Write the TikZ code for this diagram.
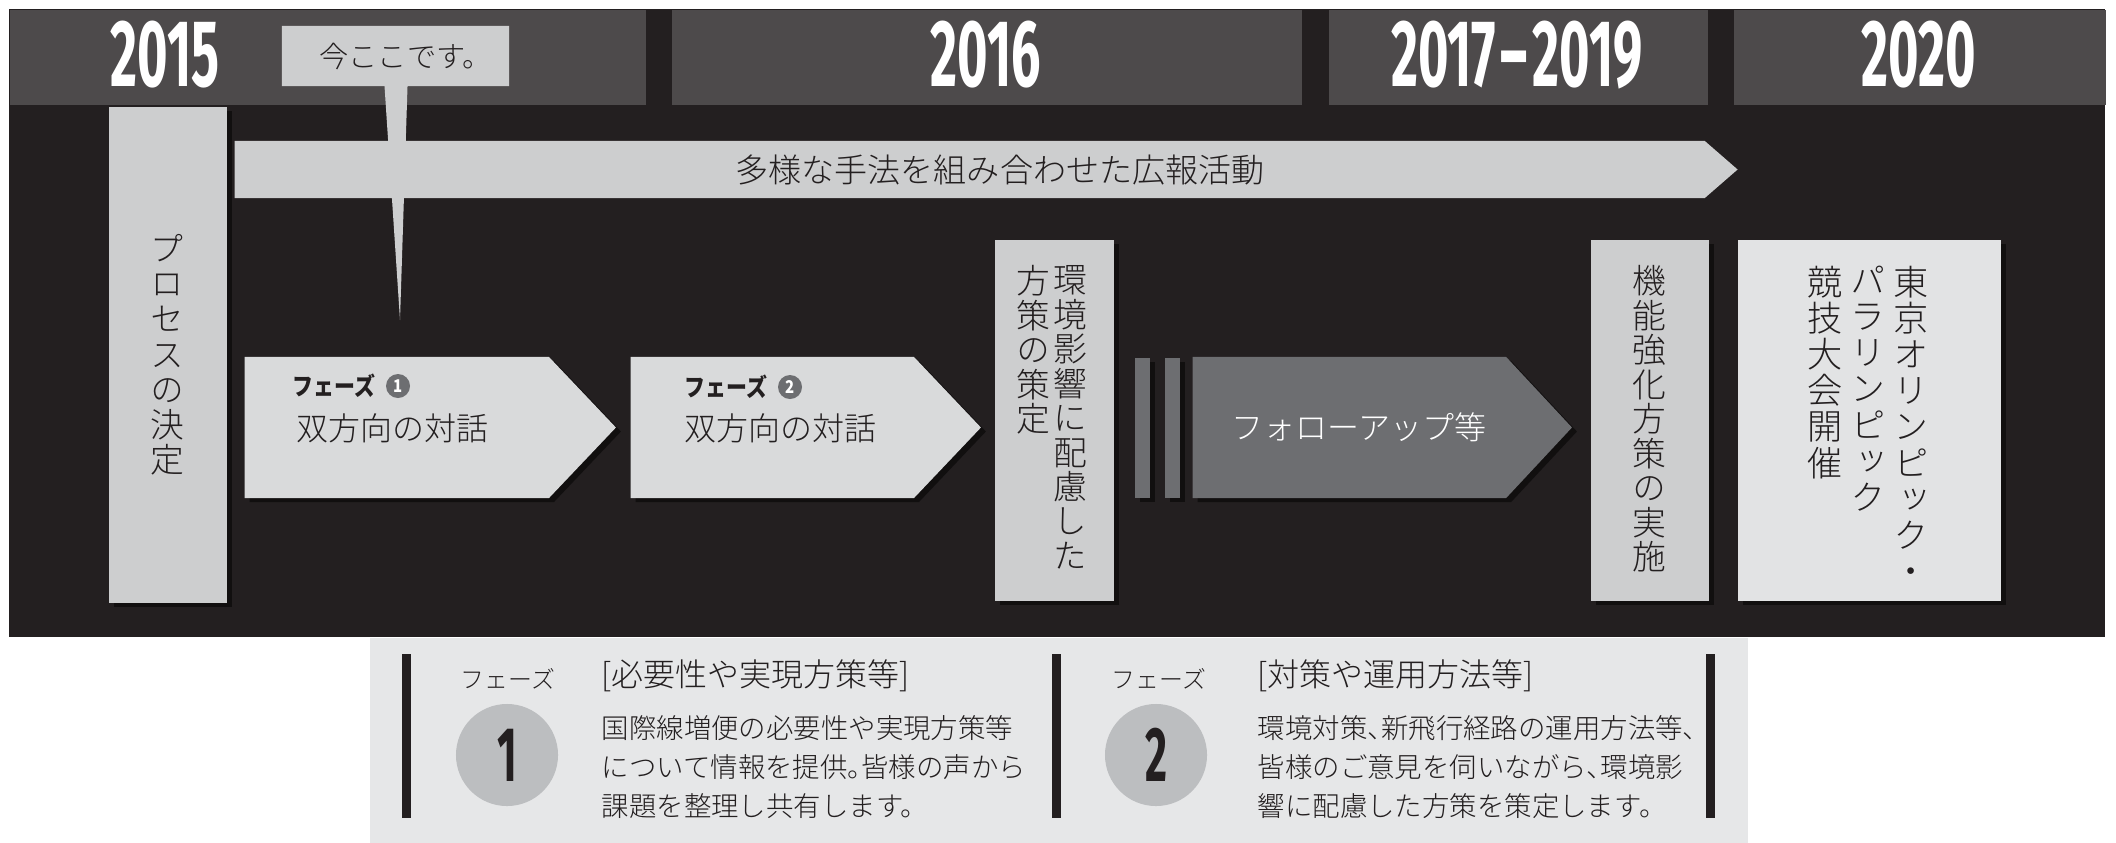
\documentclass[tikz,border=0pt]{standalone}
\usepackage{fontspec}
\IfFontExistsTF{Noto Sans CJK JP Light}{\def\jpname{Noto Sans CJK JP Light}}{\def\jpname{Noto Sans CJK JP}}
\setmainfont{\jpname}
\newfontfamily\tagfont[FakeStretch=0.85]{Noto Sans CJK JP}
\newfontfamily\yearfont[FakeStretch=0.55]{Fira Sans}
\newfontfamily\halffont[RawFeature=+halt]{\jpname}
\newfontfamily\vertfont[RawFeature=+vert]{\jpname}
\usetikzlibrary{shapes.symbols, shapes.callouts, shadows, calc}

\definecolor{bgdark}{HTML}{231F20}
\definecolor{headgray}{HTML}{4D4A4B}
\definecolor{boxgray}{HTML}{CDCECF}
\definecolor{phasegray}{HTML}{D9DADB}
\definecolor{olygray}{HTML}{E2E3E4}
\definecolor{midgray}{HTML}{6D6E71}
\definecolor{panelgray}{HTML}{E6E7E8}
\definecolor{circgray}{HTML}{BCBEC0}

\newcommand{\hw}[1]{{\halffont #1}}

\begin{document}
\begin{tikzpicture}[x=0.01cm, y=-0.01cm,
    every node/.style={inner sep=0pt, text=bgdark},
    hd/.style={fill=headgray, anchor=north west, minimum height=0.95cm},
    yr/.style={font=\yearfont\bfseries\fontsize{27}{27}\selectfont, text=white},
    shd/.style={drop shadow={shadow xshift=0.05cm, shadow yshift=-0.04cm, fill=black, opacity=0.5}},
    vbox/.style={shd, fill=boxgray, anchor=north west, minimum height=3.61cm},
    vcol/.style={anchor=north, align=center, font=\vertfont\fontsize{9.6}{9.8}\selectfont},
    ocol/.style={vcol, font=\vertfont\fontsize{10}{10.3}\selectfont},
    arr/.style={signal, signal to=east, anchor=west, minimum height=1.41cm, shd},
    lbl/.style={anchor=west, font=\fontsize{9.1}{10}\selectfont},
    tag/.style={anchor=west, font=\tagfont\bfseries\fontsize{7}{7}\selectfont},
    badge/.style={circle, fill=midgray, minimum size=0.24cm, text=white,
      font=\tagfont\bfseries\fontsize{5}{5}\selectfont},
    num/.style={circle, fill=circgray, minimum size=1.02cm, font=\yearfont\bfseries\fontsize{22}{22}\selectfont},
    bar/.style={fill=bgdark, anchor=north west, minimum width=0.095cm, minimum height=1.64cm},
    desc/.style={anchor=north west, align=left, font=\fontsize{7.8}{11.1}\selectfont}
]
\useasboundingbox (0,0) rectangle (2116,842);
\fill[white] (0,0) rectangle (2116,842);
\fill[bgdark] (9,9) rectangle (2105,637);

% year headers
\node[hd, minimum width=6.36cm] (hd15) at (9,9) {};
\node[hd, minimum width=6.30cm] (hd16) at (671,9) {};
\node[hd, minimum width=3.79cm] (hd17) at (1328,9) {};
\node[hd, minimum width=3.72cm] (hd20) at (1733,9) {};
\node[yr] (y15) at (165,55) {2015};
\node[yr] (y16) at (986,55) {2016};
\node[yr] (y17) at (1517,55) {2017\kern0.05em–\kern0.05em2019};
\node[yr] (y20) at (1919,55) {2020};

% publicity band
\node[signal, signal to=east, anchor=west, fill=boxgray, minimum width=15.02cm,
  minimum height=0.57cm, signal pointer angle=82] (pr) at (234,169.5) {};
\node[font=\fontsize{9.4}{10}\selectfont] (prt) at (1000,170) {多様な手法を組み合わせた広報活動};

% vertical boxes
\node[vbox, minimum width=1.18cm, minimum height=4.96cm, font=\vertfont\fontsize{9.6}{10}\selectfont,
  align=center] (proc) at (108,106) {プ\\ロ\\セ\\ス\\の\\決\\定};
\node[vbox, minimum width=1.19cm] (env) at (994,239) {};
\node[vcol] (envA) at (1070,265) {環\\境\\影\\響\\に\\配\\慮\\し\\た};
\node[vcol] (envB) at (1033,265) {方\\策\\の\\策\\定};
\node[vbox, minimum width=1.18cm] (func) at (1590,239) {};
\node[vcol] (funcA) at (1649,265) {機\\能\\強\\化\\方\\策\\の\\実\\施};
\node[vbox, fill=olygray, minimum width=2.63cm] (oly) at (1737,239) {};
\node[ocol] (olyA) at (1911,265) {東\\京\\オ\\リ\\ン\\ピ\\ッ\\ク\\・};
\node[ocol] (olyB) at (1868,265) {パ\\ラ\\リ\\ン\\ピ\\ッ\\ク};
\node[ocol] (olyC) at (1825,265) {競\\技\\大\\会\\開\\催};

% phases
\node[arr, fill=phasegray, minimum width=3.71cm, signal pointer angle=93] (ph1) at (244,427.5) {};
\node[tag] (ph1a) at (292,386) {フェーズ};
\node[badge] (ph1n) at (398,386) {1};
\node[lbl] (ph1b) at (296,428) {双方向の対話};
\node[arr, fill=phasegray, minimum width=3.50cm, signal pointer angle=93] (ph2) at (630,427.5) {};
\node[tag] (ph2a) at (684,387) {フェーズ};
\node[badge] (ph2n) at (790,387) {2};
\node[lbl] (ph2b) at (684,428) {双方向の対話};

% follow-up
\node[shd, fill=midgray, anchor=north west, minimum width=0.15cm, minimum height=1.40cm] (gap1) at (1134,357) {};
\node[shd, fill=midgray, anchor=north west, minimum width=0.15cm, minimum height=1.40cm] (gap2) at (1164,357) {};
\node[arr, fill=midgray, minimum width=3.79cm, signal pointer angle=94] (fu) at (1192,427.5) {};
\node[lbl, anchor=center, text=white] (fut) at (1359,427) {フォローアップ等};

% current position
\node[rectangle callout, fill=boxgray, minimum width=2.27cm, minimum height=0.6cm,
  callout absolute pointer={(400,320)}, callout pointer width=0.23cm,
  font=\fontsize{8.3}{8.3}\selectfont] (now) at (395.5,56) {\kern0.7em今ここです。};

% legend panel
\node[fill=panelgray, anchor=north west, minimum width=13.77cm, minimum height=2.05cm] (panel) at (369,637) {};
\node[bar] (bar1) at (401,653) {};
\node[bar] (bar2) at (1051,653) {};
\node[bar] (bar3) at (1705,653) {};

\node[font=\fontsize{6.8}{7}\selectfont] (f1) at (508,679) {フェーズ};
\node[num] (n1) at (507,755) {1};
\node[lbl] (t1) at (601,676) {[必要性や実現方策等]};
\node[desc] (d1) at (601,715) {国際線増便の必要性や実現方策等\\について情報を提供\hw{。}皆様の声から\\課題を整理し共有します。};

\node[font=\fontsize{6.8}{7}\selectfont] (f2) at (1159,679) {フェーズ};
\node[num] (n2) at (1156,755) {2};
\node[lbl] (t2) at (1257,676) {[対策や運用方法等]};
\node[desc] (d2) at (1257,715) {環境対策\hw{、}新飛行経路の運用方法等\hw{、}\\皆様のご意見を伺いながら\hw{、}環境影\\響に配慮した方策を策定します。};
\end{tikzpicture}
\end{document}
